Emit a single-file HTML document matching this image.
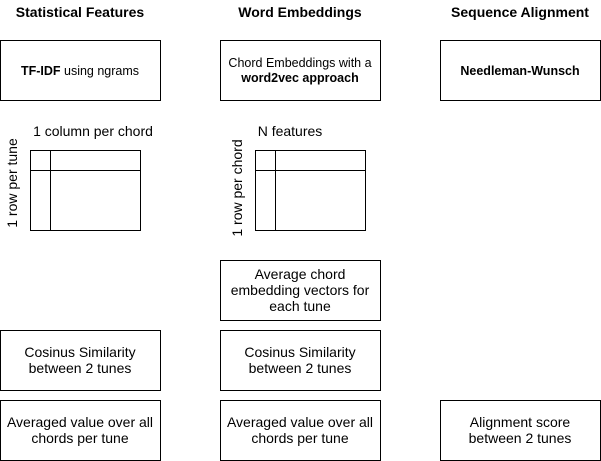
<!DOCTYPE html>
<html><head><style>body{margin:0;background:#fff}svg{display:block}</style></head><body>
<svg width="601" height="461" xmlns="http://www.w3.org/2000/svg" font-family="Liberation Sans, Arial, sans-serif" font-size="12.5">
<g fill="#fff" stroke="#000" stroke-width="1">
<rect x="0.5" y="40.5" width="160" height="60"/>
<rect x="220.5" y="40.5" width="160" height="60"/>
<rect x="440.5" y="40.5" width="160" height="60"/>
<rect x="30.5" y="150.5" width="110" height="80"/>
<rect x="255.5" y="150.5" width="110" height="80"/>
<rect x="220.5" y="260.5" width="160" height="60"/>
<rect x="0.5" y="330.5" width="160" height="60"/>
<rect x="220.5" y="330.5" width="160" height="60"/>
<rect x="0.5" y="400.5" width="160" height="60"/>
<rect x="220.5" y="400.5" width="160" height="60"/>
<rect x="440.5" y="400.5" width="160" height="60"/>
<path d="M50.5 150.5V230.5M30.5 170.5H140.5M275.5 150.5V230.5M255.5 170.5H365.5" fill="none"/>
</g>
<g text-anchor="middle" font-weight="bold" font-size="14">
<text x="80" y="17">Statistical Features</text>
<text x="300" y="17">Word Embeddings</text>
<text x="520" y="17">Sequence Alignment</text>
</g>
<text x="80" y="75" text-anchor="middle"><tspan font-weight="bold">TF-IDF</tspan> using ngrams</text>
<text x="300" y="67" text-anchor="middle">Chord Embeddings with a</text>
<text x="300" y="82" text-anchor="middle" font-weight="bold">word2vec approach</text>
<text x="520" y="75" text-anchor="middle" font-weight="bold">Needleman-Wunsch</text>
<g font-size="14" text-anchor="middle">
<text x="93" y="136">1 column per chord</text>
<text x="290" y="136">N features</text>
<text transform="translate(17,183) rotate(-90)">1 row per tune</text>
<text transform="translate(242,188) rotate(-90)">1 row per chord</text>
<text x="300" y="279">Average chord</text>
<text x="300" y="295">embedding vectors for</text>
<text x="300" y="311">each tune</text>
<text x="80" y="357">Cosinus Similarity</text>
<text x="80" y="373">between 2 tunes</text>
<text x="300" y="357">Cosinus Similarity</text>
<text x="300" y="373">between 2 tunes</text>
<text x="80" y="427">Averaged value over all</text>
<text x="80" y="443">chords per tune</text>
<text x="300" y="427">Averaged value over all</text>
<text x="300" y="443">chords per tune</text>
<text x="520" y="427">Alignment score</text>
<text x="520" y="443">between 2 tunes</text>
</g>
</svg>
</body></html>
